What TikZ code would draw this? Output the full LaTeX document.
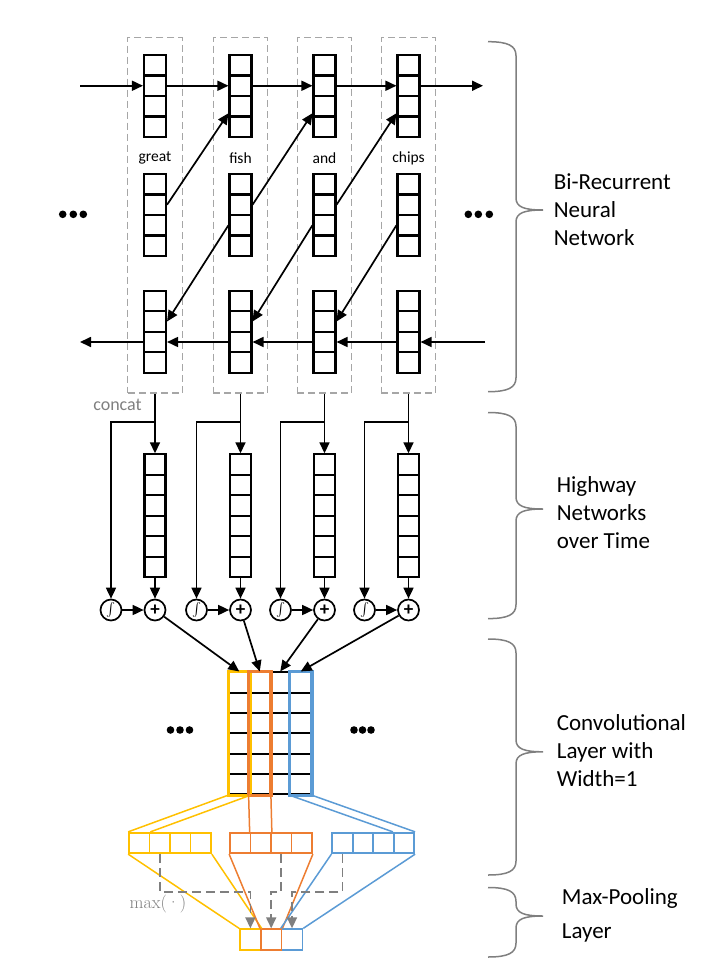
\documentclass[tikz,border=0pt]{standalone}
\usepackage{fontspec}
\setmainfont{Carlito}
\newfontfamily\lmserif{Latin Modern Roman}
\usetikzlibrary{arrows.meta}
\definecolor{cyel}{HTML}{FFC000}
\definecolor{corg}{HTML}{ED7D31}
\definecolor{cblu}{HTML}{5B9BD5}
\definecolor{cgry}{HTML}{7F7F7F}
\definecolor{cbox}{HTML}{A6A6A6}

\begin{document}
\begin{tikzpicture}[x=1pt,y=-1pt,line width=1.7pt,>={Triangle[length=11pt,width=10pt]}]
\tikzset{cell/.style={draw,line width=2.1pt,minimum width=22pt,minimum height=20.5pt,inner sep=0pt},
  frame/.style={draw=cbox,line width=1.4pt,dash pattern=on 7pt off 4pt,minimum width=54.5pt,minimum height=355.7pt,inner sep=0pt},
  gate/.style={draw,circle,line width=1.7pt,minimum size=21pt,inner sep=0pt},
  pcell/.style={draw=#1,line width=1.7pt,minimum width=20.5pt,minimum height=20.6pt,inner sep=0pt},
  fan/.style={draw=#1,line width=1.5pt},
  maxarr/.style={draw=cgry,line width=1.7pt,dash pattern=on 9pt off 5pt,->},
  brc/.style={draw=cgry,line width=1.5pt},
  lbl/.style={anchor=west,align=left,inner sep=0pt,font=\fontsize{23}{28}\selectfont},
  grylbl/.style={text=cgry,inner sep=0pt,font=\fontsize{18}{22}\selectfont}}
\useasboundingbox (0,0) rectangle (707,966);
% ---------- bi-recurrent network ----------
\foreach \i/\x/\w in {1/155/great,2/240.5/fish,3/324.5/and,4/408.5/chips}{
  \node[frame] (w\i) at (\x,215.2) {};
  \node[font=\fontsize{15.5}{18}\selectfont,inner sep=0pt] (t\i) at (\x,158) {\w};
  \foreach \k in {1,...,4}{
    \node[cell] (f\i-\k) at (\x,{65.25+20.5*(\k-1)}) {};
    \node[cell] (m\i-\k) at (\x,{184.25+20.5*(\k-1)}) {};
    \node[cell] (b\i-\k) at (\x,{301+20.5*(\k-1)}) {};
  }
}
\coordinate (fin) at (80,85.75);
\coordinate (fout) at (483,85.75);
\coordinate (bin) at (485,342);
\coordinate (bout) at (80,342);
\draw[->] (fin) -- (f1-2.west);
\foreach \i/\j in {1/2,2/3,3/4}{
  \draw[->] (f\i-2.east) -- (f\j-2.west);
  \draw[->] (m\i-2.east) -- ([yshift=-7pt]f\j-3.west);
  \draw[->] (m\j-3.west) -- (b\i-2.east);
  \draw[->] (b\j-3.west) -- (b\i-3.east);
}
\draw[->] (f4-2.east) -- (fout);
\draw[->] (bin) -- (b4-3.east);
\draw[->] (b1-3.west) -- (bout);
\foreach \x in {62.7,73.3,83.3,468.3,478.3,489.3} \fill (\x,214.3) circle (3.8pt);
\node[grylbl] (cc) at (117.5,405) {concat};
% ---------- highway networks ----------
\foreach \i/\x in {1/155,2/240.5,3/324.5,4/408.5}{
  \foreach \k in {1,...,6}
    \node[cell,minimum width=21pt] (h\i-\k) at (\x,{464.6+20.5*(\k-1)}) {};
  \node[gate] (s\i) at (\x-44,610) {\scalebox{1.35}{$\int$}};
  \node[gate,font=\fontsize{19}{19}\selectfont\bfseries] (p\i) at (\x,610) {+};
  \coordinate (br\i) at (\x,422);
  \draw[->] (w\i.south) -- (h\i-1.north);
  \draw[->] (br\i) -| (s\i.north);
  \draw[->] (h\i-6.south) -- (p\i.north);
  \draw[->] (s\i) -- (p\i);
}
% ---------- convolution, width 1 ----------
\foreach \i in {1,...,4}
  \foreach \k in {1,...,6}
    \node[cell,line width=1.8pt,minimum width=20.5pt,minimum height=20.33pt] (c\i-\k) at ({239.25+20.5*(\i-1)},{682.5+20.33*(\k-1)}) {};
\draw[cyel,line width=3.2pt] (c1-1.north west) rectangle (c1-6.south east);
\draw[corg,line width=3.2pt] (c2-1.north west) rectangle (c2-6.south east);
\draw[cblu,line width=3.2pt] (c4-1.north west) rectangle (c4-6.south east);
\foreach \i in {1,...,4} \draw[->] (p\i) -- (c\i-1.north);
\foreach \x in {170.5,180,189.5,354,362.5,371} \fill (\x,730) circle (3.8pt);
% ---------- max-pooling ----------
\foreach \k in {1,...,4}{
  \node[pcell=cyel] (yr-\k) at ({139.25+20.5*(\k-1)},843) {};
  \node[pcell=corg] (or-\k) at ({240.25+20.5*(\k-1)},843) {};
  \node[pcell=cblu] (bl-\k) at ({342.5+20.5*(\k-1)},843) {};
}
\draw[fan=cyel] (c1-6.south west) -- (yr-1.north west);
\draw[fan=cyel] (c1-6.south east) -- (yr-1.north east);
\draw[fan=corg] (c2-6.south west) -- (or-2.north west);
\draw[fan=corg] (c2-6.south east) -- (or-2.north east);
\draw[fan=cblu] (c4-6.south west) -- (bl-4.north west);
\draw[fan=cblu] (c4-6.south east) -- (bl-4.north east);
\node[pcell=cyel,minimum width=20.8pt] (q1) at (250.4,939.5) {};
\node[pcell=cblu,minimum width=20.8pt] (q3) at (292,939.5) {};
\node[pcell=corg,minimum width=20.8pt] (q2) at (271.2,939.5) {};
\draw[fan=cyel] (yr-1.south west) -- (q1.north west);
\draw[fan=cyel] (yr-4.south east) -- (q1.north east);
\draw[fan=corg] (or-1.south west) -- (q2.north west);
\draw[fan=corg] (or-4.south east) -- (q2.north east);
\draw[fan=cblu] (bl-1.south west) -- (q3.north west);
\draw[fan=cblu] (bl-4.south east) -- (q3.north east);
\coordinate (mx) at (0,892);
\draw[maxarr] (yr-2.south) |- (mx -| q1) -- (q1.north);
\draw[maxarr] (or-3.south) |- (mx -| q2) -- (q2.north);
\draw[maxarr] (bl-1.south) |- (mx -| q3) -- (q3.north);
\node[grylbl,font=\lmserif\fontsize{18}{22}\selectfont] (ml) at (158,904) {max(·)};
% ---------- braces and layer names ----------
\foreach \a/\t/\b in {41.7/210/391.7,412.5/509/618.6,639/751.8/875,887.5/916/957}
  \draw[brc] (488,\a) .. controls (508,\a) and (516,\a+4) .. (516,\a+14) -- (516,\t-12)
    .. controls (516,\t-3) and (524,\t) .. (543,\t) .. controls (524,\t) and (516,\t+3) .. (516,\t+12)
    -- (516,\b-14) .. controls (516,\b-4) and (508,\b) .. (488,\b);
\node[lbl] (l1) at (553,210) {Bi-Recurrent\\Neural\\Network};
\node[lbl] (l2) at (556,513) {Highway\\Networks\\over Time};
\node[lbl] (l3) at (556,751) {Convolutional\\Layer with\\Width=1};
\node[lbl,font=\fontsize{23}{34}\selectfont] (l4) at (561,915) {Max-Pooling\\Layer};
\end{tikzpicture}
\end{document}
